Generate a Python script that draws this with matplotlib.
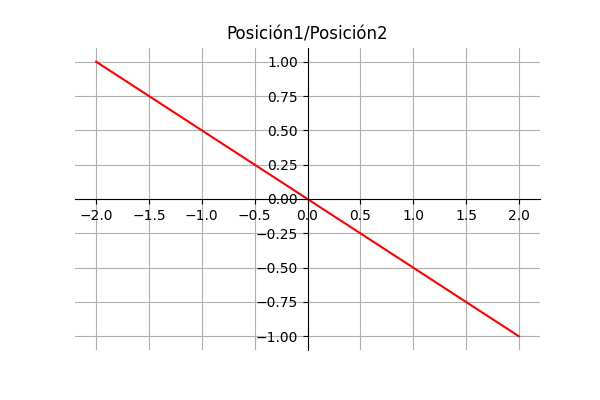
import matplotlib
matplotlib.use("Agg")
from matplotlib import pyplot as plt

# Values
x_values = [-2.0, -1.0, 0.0, 1.0, 2.0]
y_values = [1.0, 0.5, 0.0, -0.5, -1.0]
chart_title = "Posición1/Posición2"

fig, ax = plt.subplots(figsize=(6, 4), dpi=100)
fig.subplots_adjust(bottom=0.125)
ax.plot(x_values, y_values, color="red")

# Axes crossing at the origin
ax.spines["left"].set_position("zero")
ax.spines["bottom"].set_position("zero")
ax.spines["right"].set_visible(False)
ax.spines["top"].set_visible(False)

ax.grid(True)
ax.set_title(chart_title)

fig.savefig("out.png")
